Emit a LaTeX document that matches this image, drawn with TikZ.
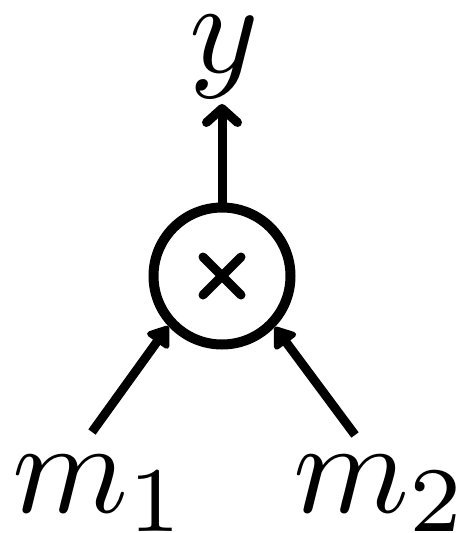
\documentclass[tikz,border=0pt]{standalone}
\usetikzlibrary{arrows.meta,calc}
\begin{document}
\begin{tikzpicture}[x=1pt,y=-1pt,
  lbl/.style={anchor=base,inner sep=0pt,scale=13.2},
  opnode/.style={circle,draw,line width=10pt,minimum size=137pt,inner sep=0pt},
  uparr/.style={line width=9pt,-{Straight Barb[length=14pt,width=31pt,line cap=round,line join=round]}},
  inarr/.style={line width=9pt,-{Triangle[length=22pt,width=30pt,round]}},
  cross/.style={line width=9pt,line cap=round}]
\useasboundingbox (0,0) rectangle (466,533);
\node[opnode] (c) at (222,276) {};
\draw[cross] ($(c.center)+(-19,-19)$) -- ($(c.center)+(19,19)$);
\draw[cross] ($(c.center)+(-19,19)$) -- ($(c.center)+(19,-19)$);
\node[lbl] (y) at (224,72) {$y$};
\node[lbl] (m1) at (100,512) {$m_1$};
\node[lbl] (m2) at (381,512) {$m_2$};
\coordinate (s1) at (92,432);
\coordinate (s2) at (355,435);
\coordinate (t0) at (222,104);
\draw[uparr] (c.north) -- (t0);
\draw[inarr] (s1) -- (c.223);
\draw[inarr] (s2) -- (c.316);
\end{tikzpicture}
\end{document}
